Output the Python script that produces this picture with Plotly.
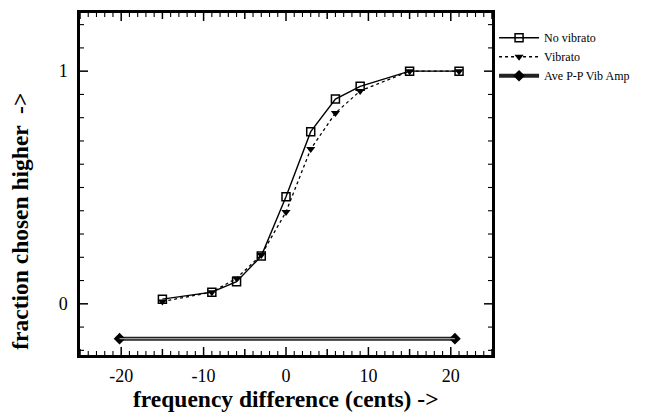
import plotly.graph_objects as go

cents = [-15, -9, -6, -3, 0, 3, 6, 9, 15, 21]
no_vibrato = [0.02, 0.05, 0.095, 0.205, 0.46, 0.74, 0.88, 0.935, 1.0, 1.0]
vibrato = [0.01, 0.05, 0.11, 0.21, 0.395, 0.665, 0.82, 0.915, 1.0, 1.0]
amp_x = [-20.2, 20.5]
amp_y = [-0.15, -0.15]
x_ticks = [-20, -10, 0, 10, 20]
y_ticks = [0, 1]
x_minor = list(range(-25, 26))                      # every cent
y_minor = [round(-0.2 + 0.1 * i, 1) for i in range(15)]  # every 0.1

X_RANGE = [-25, 25]
Y_RANGE = [-0.22, 1.25]
SERIF = "Liberation Serif"

fig = go.Figure()
fig.add_trace(go.Scatter(
    x=amp_x, y=amp_y, mode="lines+markers", name="Ave P-P Vib Amp",
    line=dict(color="#222", width=4),
    marker=dict(symbol="diamond", size=9, color="black")))
fig.add_trace(go.Scatter(
    x=amp_x, y=amp_y, mode="lines", showlegend=False, hoverinfo="skip",
    line=dict(color="#9a9a9a", width=1.2)))
fig.add_trace(go.Scatter(
    x=cents, y=vibrato, mode="lines+markers", name="Vibrato",
    line=dict(color="black", width=1.3, dash="dot"),
    marker=dict(symbol="triangle-down", size=8, color="black")))
fig.add_trace(go.Scatter(
    x=cents, y=no_vibrato, mode="lines+markers", name="No vibrato",
    line=dict(color="black", width=1.4),
    marker=dict(symbol="square-open", size=8, color="black", line=dict(width=1.5))))

tickfont = dict(family=SERIF, size=18, color="black")

# inward tick marks on all four sides (drawn as pixel-sized shapes)
shapes = []
for v in x_minor:
    ln = 8 if v in x_ticks else (6 if v % 5 == 0 else 4)
    w = 1.5 if v % 5 == 0 else 1.1
    for anchor, sign in ((0, 1), (1, -1)):
        shapes.append(dict(type="line", xref="x", yref="paper", ysizemode="pixel",
                           yanchor=anchor, x0=v, x1=v, y0=0, y1=sign * ln,
                           line=dict(color="black", width=w)))
for v in y_minor:
    major = v in y_ticks
    ln = 8 if major else 4
    w = 1.5 if major else 1.1
    for anchor, sign in ((0, 1), (1, -1)):
        shapes.append(dict(type="line", xref="paper", yref="y", xsizemode="pixel",
                           xanchor=anchor, y0=v, y1=v, x0=0, x1=sign * ln,
                           line=dict(color="black", width=w)))

fig.update_layout(
    width=650, height=415,
    margin=dict(l=80, r=158, t=13, b=60, autoexpand=False),
    plot_bgcolor="white", paper_bgcolor="white",
    showlegend=True,
    xaxis=dict(range=X_RANGE, showline=True, linecolor="black", linewidth=2.5,
               mirror=True, ticks="", showgrid=False, zeroline=False,
               tickmode="array", tickvals=x_ticks, ticktext=[str(v) for v in x_ticks],
               tickfont=tickfont, ticklabelstandoff=3),
    yaxis=dict(range=Y_RANGE, showline=True, linecolor="black", linewidth=2.5,
               mirror=True, ticks="", showgrid=False, zeroline=False,
               tickmode="array", tickvals=y_ticks, ticktext=[str(v) for v in y_ticks],
               tickfont=tickfont, ticklabelstandoff=6),
    shapes=shapes,
    legend=dict(x=1.005, y=0.97, xanchor="left", yanchor="top",
                font=dict(family=SERIF, size=12, color="black"),
                traceorder="reversed", itemwidth=40, tracegroupgap=0,
                bgcolor="rgba(0,0,0,0)"),
    annotations=[
        dict(text="<b>frequency difference (cents) -></b>", xref="paper", yref="paper",
             x=0.5, y=-0.13, xanchor="center", yanchor="middle", showarrow=False,
             font=dict(family=SERIF, size=23.5, color="black")),
        dict(text="<b>fraction chosen higher  -></b>", xref="paper", yref="paper",
             x=-0.146, y=0.392, xanchor="center", yanchor="middle", showarrow=False,
             textangle=-90, font=dict(family=SERIF, size=23.5, color="black")),
    ],
)

fig.write_html("out.html")
